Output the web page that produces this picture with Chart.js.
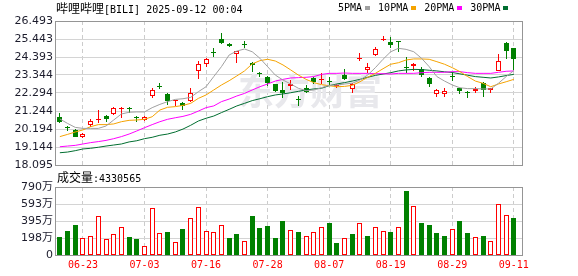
<!DOCTYPE html>
<html>
<head>
<meta charset="utf-8">
<script src="https://cdn.jsdelivr.net/npm/chart.js@4.4.1/dist/chart.umd.min.js"></script>
<style>
  body { margin: 0; background: #fff; width: 578px; height: 276px; overflow: hidden; position: relative; }
  canvas { position: absolute; left: 0; }
  #main { top: 0; }
  #vol { top: 175px; }
  .txt { position: absolute; font-family: 'DejaVu Sans Mono', 'Noto Sans CJK SC', monospace; font-size: 10px; line-height: 12px; color: #000; white-space: nowrap; }
  .cjk { font-family: 'Noto Sans CJK SC', sans-serif; font-size: 12px; }
  .sq { display: inline-block; width: 5px; height: 4px; margin: 0 8px 1px 3px; }
</style>
</head>
<body>
<canvas id="main" width="578" height="175"></canvas>
<canvas id="vol" width="578" height="101"></canvas>
<div class="txt" style="left:56px;top:2px"><span class="cjk">哔哩哔哩</span>[BILI] 2025-09-12 00:04</div>
<div class="txt" id="legend" style="left:338px;top:2px"></div>
<div class="txt" style="left:57px;top:171px"><span class="cjk">成交量</span>:4330565</div>
<script>
// trading days shown (60 sessions)
const dates = ['06-17','06-18','06-20','06-23','06-24','06-25','06-26','06-27','06-30','07-01',
  '07-02','07-03','07-07','07-08','07-09','07-10','07-11','07-14','07-15','07-16',
  '07-17','07-18','07-21','07-22','07-23','07-24','07-25','07-28','07-29','07-30',
  '07-31','08-01','08-04','08-05','08-06','08-07','08-08','08-11','08-12','08-13',
  '08-14','08-15','08-18','08-19','08-20','08-21','08-22','08-25','08-26','08-27',
  '08-28','08-29','09-02','09-03','09-04','09-05','09-08','09-09','09-10','09-11'];

const openP = [20.89,20.30,20.16,19.75,20.45,20.70,20.97,21.05,21.38,21.41,
  20.91,20.72,22.12,22.67,22.24,21.81,21.69,21.85,23.58,23.97,
  24.69,25.44,25.17,24.55,25.11,24.04,23.42,23.21,22.82,22.45,
  22.72,21.94,22.56,23.15,23.05,22.99,22.68,23.34,22.51,24.30,
  23.64,24.49,25.37,25.27,25.31,23.81,23.85,23.71,23.15,22.24,
  22.24,23.27,22.59,22.31,22.43,22.86,22.45,23.60,25.21,24.92];
const highP = [21.11,20.37,20.19,19.94,20.76,21.30,20.99,21.46,21.46,21.46,
  20.95,20.93,22.57,22.86,22.27,21.89,21.77,22.59,24.16,24.36,
  24.90,25.81,25.19,24.76,25.35,24.12,23.52,23.29,22.84,22.93,
  23.05,22.12,22.74,23.21,23.48,23.21,22.80,23.67,22.86,24.61,
  24.02,24.96,25.62,25.54,25.33,24.37,24.06,23.83,23.21,22.53,
  22.59,23.54,22.61,22.39,22.66,22.93,22.61,24.57,25.27,24.94];
const lowP = [20.56,20.08,19.71,19.67,20.29,20.53,20.58,20.99,20.86,21.11,
  20.60,20.68,22.02,22.53,21.59,21.54,21.30,21.79,23.09,23.83,
  24.41,25.15,24.98,24.06,24.92,23.52,23.21,22.70,22.35,22.02,
  22.47,21.55,22.27,22.80,22.80,22.72,22.57,23.05,22.27,24.14,
  23.48,24.45,25.31,24.90,24.70,23.48,23.60,23.21,22.66,22.08,
  22.08,22.99,22.21,22.02,22.31,22.08,22.31,23.58,24.26,23.64];
const closeP = [20.62,20.27,19.75,19.88,20.66,20.74,20.79,21.42,21.44,21.38,
  20.82,20.88,22.47,22.62,21.81,21.85,21.54,22.28,23.97,24.26,
  24.65,25.19,25.02,24.74,25.07,23.91,23.38,22.86,22.41,22.27,
  22.80,21.90,22.37,22.96,23.09,22.96,22.78,23.09,22.82,24.36,
  23.79,24.86,25.40,25.09,25.29,23.77,23.99,23.32,22.80,22.47,
  22.43,23.23,22.43,22.27,22.55,22.47,22.59,24.16,24.76,24.30];

// volume, in 万 shares
const volumes = [212,277,347,193,220,451,185,239,324,208,
  185,104,551,250,266,150,301,428,563,277,
  262,343,197,243,162,451,316,335,197,393,
  289,266,220,262,324,370,139,197,243,366,
  220,331,274,266,324,740,574,370,347,254,
  220,301,393,254,208,220,162,597,470,433.0565];

const ma5 = [20.78,20.52,20.29,20.23,20.23,20.23,20.37,20.72,21.07,21.17,
  21.19,21.19,21.44,21.63,21.79,21.92,21.96,22.04,22.37,22.66,
  23.25,23.83,24.51,24.74,24.86,24.70,24.32,23.83,23.34,23.05,
  22.82,22.57,22.43,22.47,22.60,22.74,22.76,22.82,22.86,23.05,
  23.34,23.77,24.26,24.70,24.90,24.84,24.70,24.32,23.83,23.25,
  22.99,22.76,22.60,22.55,22.55,22.53,22.53,22.86,23.25,23.60];
const ma10 = [19.75,19.88,20.02,20.14,20.33,20.45,20.45,20.49,20.62,20.70,
  20.72,20.76,20.91,21.30,21.46,21.50,21.57,21.69,21.98,22.18,
  22.47,22.76,23.01,23.29,23.58,23.99,24.18,24.26,24.16,23.93,
  23.64,23.34,23.09,22.90,22.78,22.72,22.66,22.68,22.74,22.95,
  23.21,23.44,23.71,23.97,24.06,24.22,24.28,24.28,24.26,24.12,
  23.97,23.77,23.54,23.25,22.99,22.86,22.66,22.82,22.95,23.09];
const ma20 = [19.16,19.20,19.24,19.32,19.40,19.46,19.53,19.63,19.75,19.90,
  20.08,20.27,20.45,20.62,20.76,20.85,20.93,21.05,21.24,21.44,
  21.54,21.79,21.94,22.12,22.27,22.47,22.66,22.82,22.99,23.09,
  23.17,23.19,23.21,23.25,23.38,23.44,23.44,23.46,23.44,23.44,
  23.44,23.42,23.42,23.40,23.44,23.44,23.44,23.48,23.50,23.50,
  23.50,23.54,23.54,23.48,23.44,23.44,23.44,23.50,23.56,23.58];
const ma30 = [18.81,18.85,18.93,19.03,19.07,19.13,19.20,19.26,19.32,19.44,
  19.51,19.63,19.71,19.83,19.90,20.02,20.19,20.41,20.66,20.82,
  20.95,21.15,21.34,21.54,21.69,21.85,21.96,22.08,22.18,22.24,
  22.31,22.39,22.47,22.53,22.57,22.72,22.82,22.90,22.99,23.09,
  23.21,23.32,23.40,23.48,23.58,23.64,23.67,23.66,23.62,23.58,
  23.53,23.49,23.41,23.33,23.25,23.21,23.17,23.23,23.31,23.38];

const maNames = ['5PMA', '10PMA', '20PMA', '30PMA'];
const maColors = ['#a0a0a0', '#f5a300', '#ff00ff', '#006e30'];

const priceTicks = [18.095, 19.144, 20.194, 21.244, 22.294, 23.344, 24.393, 25.443, 26.493];
const volTicks = [0, 197.5, 395, 592.5, 790];
const volTickLabels = ['0', '198万', '395万', '593万', '790万'];
const dateTickIdx = [3, 11, 19, 27, 35, 43, 51, 59];

const RED = '#ff0000';
const GREEN = '#008000';

Chart.defaults.font.family = "'DejaVu Sans', 'Noto Sans CJK SC', sans-serif";
Chart.defaults.font.size = 11;
Chart.defaults.color = '#1c1c2c';
Chart.defaults.animation = false;

const isUp = i => closeP[i] >= openP[i];
const volUp = i => i === 0 ? isUp(0) : closeP[i] >= closeP[i - 1];

// legend row
document.getElementById('legend').innerHTML = maNames
  .map((n, k) => n + '<span class="sq" style="background:' + maColors[k] + '"></span>')
  .join('');

const frame = {
  id: 'frame',
  afterDraw(chart) {
    const { ctx, chartArea: a } = chart;
    ctx.save();
    ctx.strokeStyle = '#959595';
    ctx.lineWidth = 1;
    ctx.strokeRect(a.left - 0.5, a.top + 0.5, a.right - a.left + 1, a.bottom - a.top);
    ctx.restore();
  }
};

// keep candles and volume bars on whole pixels so the 1px borders stay crisp
const snapBars = {
  id: 'snapBars',
  afterDatasetsUpdate(chart) {
    chart.getSortedVisibleDatasetMetas().forEach(meta => {
      if (meta.type !== 'bar') return;
      meta.data.forEach(el => {
        el.x = Math.floor(el.x) + 0.5;
        el.y = Math.round(el.y);
        el.base = Math.round(el.base);
      });
    });
  }
};

const watermark = {
  id: 'watermark',
  beforeDatasetsDraw(chart) {
    const ctx = chart.ctx;
    ctx.save();
    ctx.fillStyle = '#e8e8ec';
    ctx.font = "bold 36px 'Noto Sans CJK SC'";
    ctx.textBaseline = 'middle';
    ctx.fillText('东方财富', 238, 91);
    ctx.restore();
  }
};

const xScale = (showLabels) => ({
  type: 'linear',
  offset: false,
  min: -0.5,
  max: 60.06,
  afterBuildTicks: s => { s.ticks = dateTickIdx.map(v => ({ value: v })); },
  ticks: {
    display: showLabels,
    autoSkip: false,
    maxRotation: 0,
    padding: 4,
    color: RED,
    font: { family: "'DejaVu Sans Mono', monospace", size: 10 },
    callback: v => dates[v]
  },
  grid: { color: '#cccccc', drawTicks: false, offset: false },
  border: { display: false, dash: [4, 3] },
  afterFit: s => { s.height = showLabels ? 21 : 0; }
});

const maLine = (vals, k) => ({
  type: 'line',
  label: maNames[k],
  data: vals.map((v, i) => ({ x: i, y: v })),
  borderColor: maColors[k],
  borderWidth: 1,
  pointRadius: 0,
  fill: false,
  tension: 0,
  order: 0
});

new Chart(document.getElementById('main'), {
  type: 'bar',
  data: {
    datasets: [
      maLine(ma5, 0), maLine(ma10, 1), maLine(ma20, 2), maLine(ma30, 3),
      {
        label: 'body',
        data: openP.map((o, i) => ({ x: i, y: [o, closeP[i]] })),
        barThickness: 5,
        grouped: false,
        minBarLength: 1,
        inflateAmount: 0,
        borderSkipped: false,
        borderWidth: 1,
        borderColor: c => isUp(c.dataIndex) ? RED : GREEN,
        backgroundColor: c => {
          const i = c.dataIndex;
          if (!isUp(i)) return GREEN;
          return closeP[i] - openP[i] < 0.1 ? RED : '#ffffff';
        },
        order: 1
      },
      {
        label: 'wick',
        data: lowP.map((l, i) => ({ x: i, y: [l, highP[i]] })),
        barThickness: 1,
        grouped: false,
        minBarLength: 1,
        inflateAmount: 0,
        borderWidth: 0,
        backgroundColor: c => isUp(c.dataIndex) ? RED : GREEN,
        order: 2
      }
    ]
  },
  options: {
    responsive: false,
    events: [],
    layout: { padding: { left: 0, right: 56, top: 21, bottom: 10 } },
    plugins: { legend: { display: false }, tooltip: { enabled: false } },
    scales: {
      x: xScale(false),
      y: {
        min: 18.095,
        max: 26.493,
        beginAtZero: false,
        afterBuildTicks: s => { s.ticks = priceTicks.map(v => ({ value: v })); },
        ticks: { padding: 3, autoSkip: false, callback: v => v.toFixed(3) },
        grid: { color: '#d4d4d4', drawTicks: false },
        border: { display: false },
        afterFit: s => { s.width = 56; }
      }
    }
  },
  plugins: [snapBars, watermark, frame]
});

new Chart(document.getElementById('vol'), {
  type: 'bar',
  data: {
    datasets: [{
      label: '成交量',
      data: volumes.map((v, i) => ({ x: i, y: v })),
      barThickness: 5,
      grouped: false,
      inflateAmount: 0,
      borderSkipped: false,
      borderWidth: 1,
      borderColor: c => volUp(c.dataIndex) ? RED : GREEN,
      backgroundColor: c => volUp(c.dataIndex) ? '#ffffff' : GREEN
    }]
  },
  options: {
    responsive: false,
    events: [],
    layout: { padding: { left: 0, right: 56, top: 12, bottom: 0 } },
    plugins: { legend: { display: false }, tooltip: { enabled: false } },
    scales: {
      x: xScale(true),
      y: {
        min: 0,
        max: 790,
        afterBuildTicks: s => { s.ticks = volTicks.map(v => ({ value: v })); },
        ticks: { padding: 3, autoSkip: false, callback: (v, i) => volTickLabels[i] },
        grid: { color: '#d4d4d4', drawTicks: false },
        border: { display: false },
        afterFit: s => { s.width = 56; }
      }
    }
  },
  plugins: [snapBars, frame]
});
</script>
</body>
</html>
